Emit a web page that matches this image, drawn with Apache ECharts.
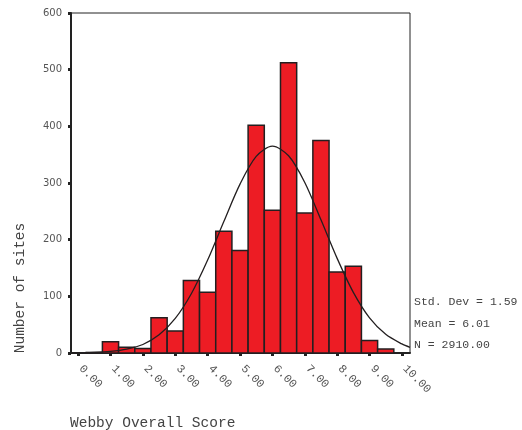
<!DOCTYPE html>
<html>
<head>
<meta charset="utf-8">
<script src="https://cdn.jsdelivr.net/npm/echarts@6/dist/echarts.min.js"></script>
<style>html,body{margin:0;padding:0;background:#fff;}#c{width:522px;height:430px;}</style>
</head>
<body>
<div id="c"></div>
<script>
// Histogram bins (center of each 0.5-wide bin) and counts
const binCenters = [0.5, 1.0, 1.5, 2.0, 2.5, 3.0, 3.5, 4.0, 4.5, 5.0, 5.5, 6.0, 6.5, 7.0, 7.5, 8.0, 8.5, 9.0, 9.5];
const counts     = [1, 20, 10, 8, 62, 39, 128, 107, 215, 181, 402, 252, 512, 247, 375, 143, 153, 22, 7];
const binWidth = 0.5;

// Fitted normal curve
const curveX = [-0.22, 0, 0.5, 1, 1.5, 2, 2.5, 3, 3.5, 4, 4.5, 5, 5.5, 6, 6.5, 7, 7.5, 8, 8.5, 9, 9.5, 10, 10.25];
const curveY = [0, 0, 1, 3, 7, 15, 32, 61, 105, 164, 232, 298, 347, 365, 348, 301, 235, 167, 107, 62, 33, 16, 10];

// Tick labels
const xTickValues = [0,1,2,3,4,5,6,7,8,9,10];
const xTickLabels = ['0.00','1.00','2.00','3.00','4.00','5.00','6.00','7.00','8.00','9.00','10.00'];

const statLines = ['Std. Dev = 1.59', 'Mean = 6.01', 'N = 2910.00'];
const xTitle = 'Webby Overall Score';
const yTitle = 'Number of sites';

const chart = echarts.init(document.getElementById('c'), null, {renderer: 'canvas'});
const mono = '"Liberation Mono", "DejaVu Sans Mono", monospace';

chart.setOption({
  animation: false,
  backgroundColor: '#fff',
  grid: {left: 71, top: 13, right: 112, bottom: 77, show: true, borderColor: '#222', borderWidth: 1, backgroundColor: 'transparent'},
  xAxis: {
    type: 'value', min: -0.22, max: 10.25,
    splitLine: {show: false},
    axisLine: {show: true, onZero: false, lineStyle: {color: '#222', width: 2}},
    axisTick: {show: true, customValues: xTickValues, length: 3, lineStyle: {color: '#222', width: 3}},
    axisLabel: {
      customValues: xTickValues, rotate: -45, margin: 11, padding: [0, 0, 0, 4],
      fontFamily: mono, fontSize: 11.5, color: '#555',
      formatter: v => xTickLabels[xTickValues.indexOf(Math.round(v))] || ''
    }
  },
  yAxis: {
    type: 'value', min: 0, max: 600, interval: 100,
    splitLine: {show: false},
    axisLine: {show: true, onZero: false, lineStyle: {color: '#222', width: 2}},
    axisTick: {show: true, length: 3, lineStyle: {color: '#222', width: 3}},
    axisLabel: {fontFamily: '"DejaVu Sans", sans-serif', fontSize: 10, color: '#555', margin: 9}
  },
  series: [
    {
      type: 'custom',
      z: 2,
      data: binCenters.map((c, i) => [c, counts[i]]),
      renderItem: function (params, api) {
        const c = api.value(0), v = api.value(1);
        const p0 = api.coord([c - binWidth / 2, v]);
        const p1 = api.coord([c + binWidth / 2, 0]);
        return {
          type: 'rect',
          shape: {x: p0[0], y: p0[1], width: p1[0] - p0[0], height: p1[1] - p0[1]},
          style: {fill: '#ed1c24', stroke: '#231f20', lineWidth: 1.5}
        };
      }
    },
    {
      type: 'line',
      z: 3,
      data: curveX.map((x, i) => [x, curveY[i]]),
      showSymbol: false,
      smooth: 0.3,
      lineStyle: {color: '#231f20', width: 1.3}
    }
  ],
  graphic: [
    {type: 'text', x: 414, y: 302, style: {text: statLines[0], font: '11.5px ' + mono, fill: '#444', verticalAlign: 'middle'}},
    {type: 'text', x: 414, y: 324, style: {text: statLines[1], font: '11.5px ' + mono, fill: '#444', verticalAlign: 'middle'}},
    {type: 'text', x: 414, y: 345, style: {text: statLines[2], font: '11.5px ' + mono, fill: '#444', verticalAlign: 'middle'}},
    {type: 'text', x: 70, y: 423, style: {text: xTitle, font: '14.5px ' + mono, fill: '#444', verticalAlign: 'middle'}},
    {type: 'text', x: 20, y: 288, rotation: Math.PI / 2, style: {text: yTitle, font: '14.5px ' + mono, fill: '#444', align: 'center', verticalAlign: 'middle'}}
  ]
});
</script>
</body>
</html>
